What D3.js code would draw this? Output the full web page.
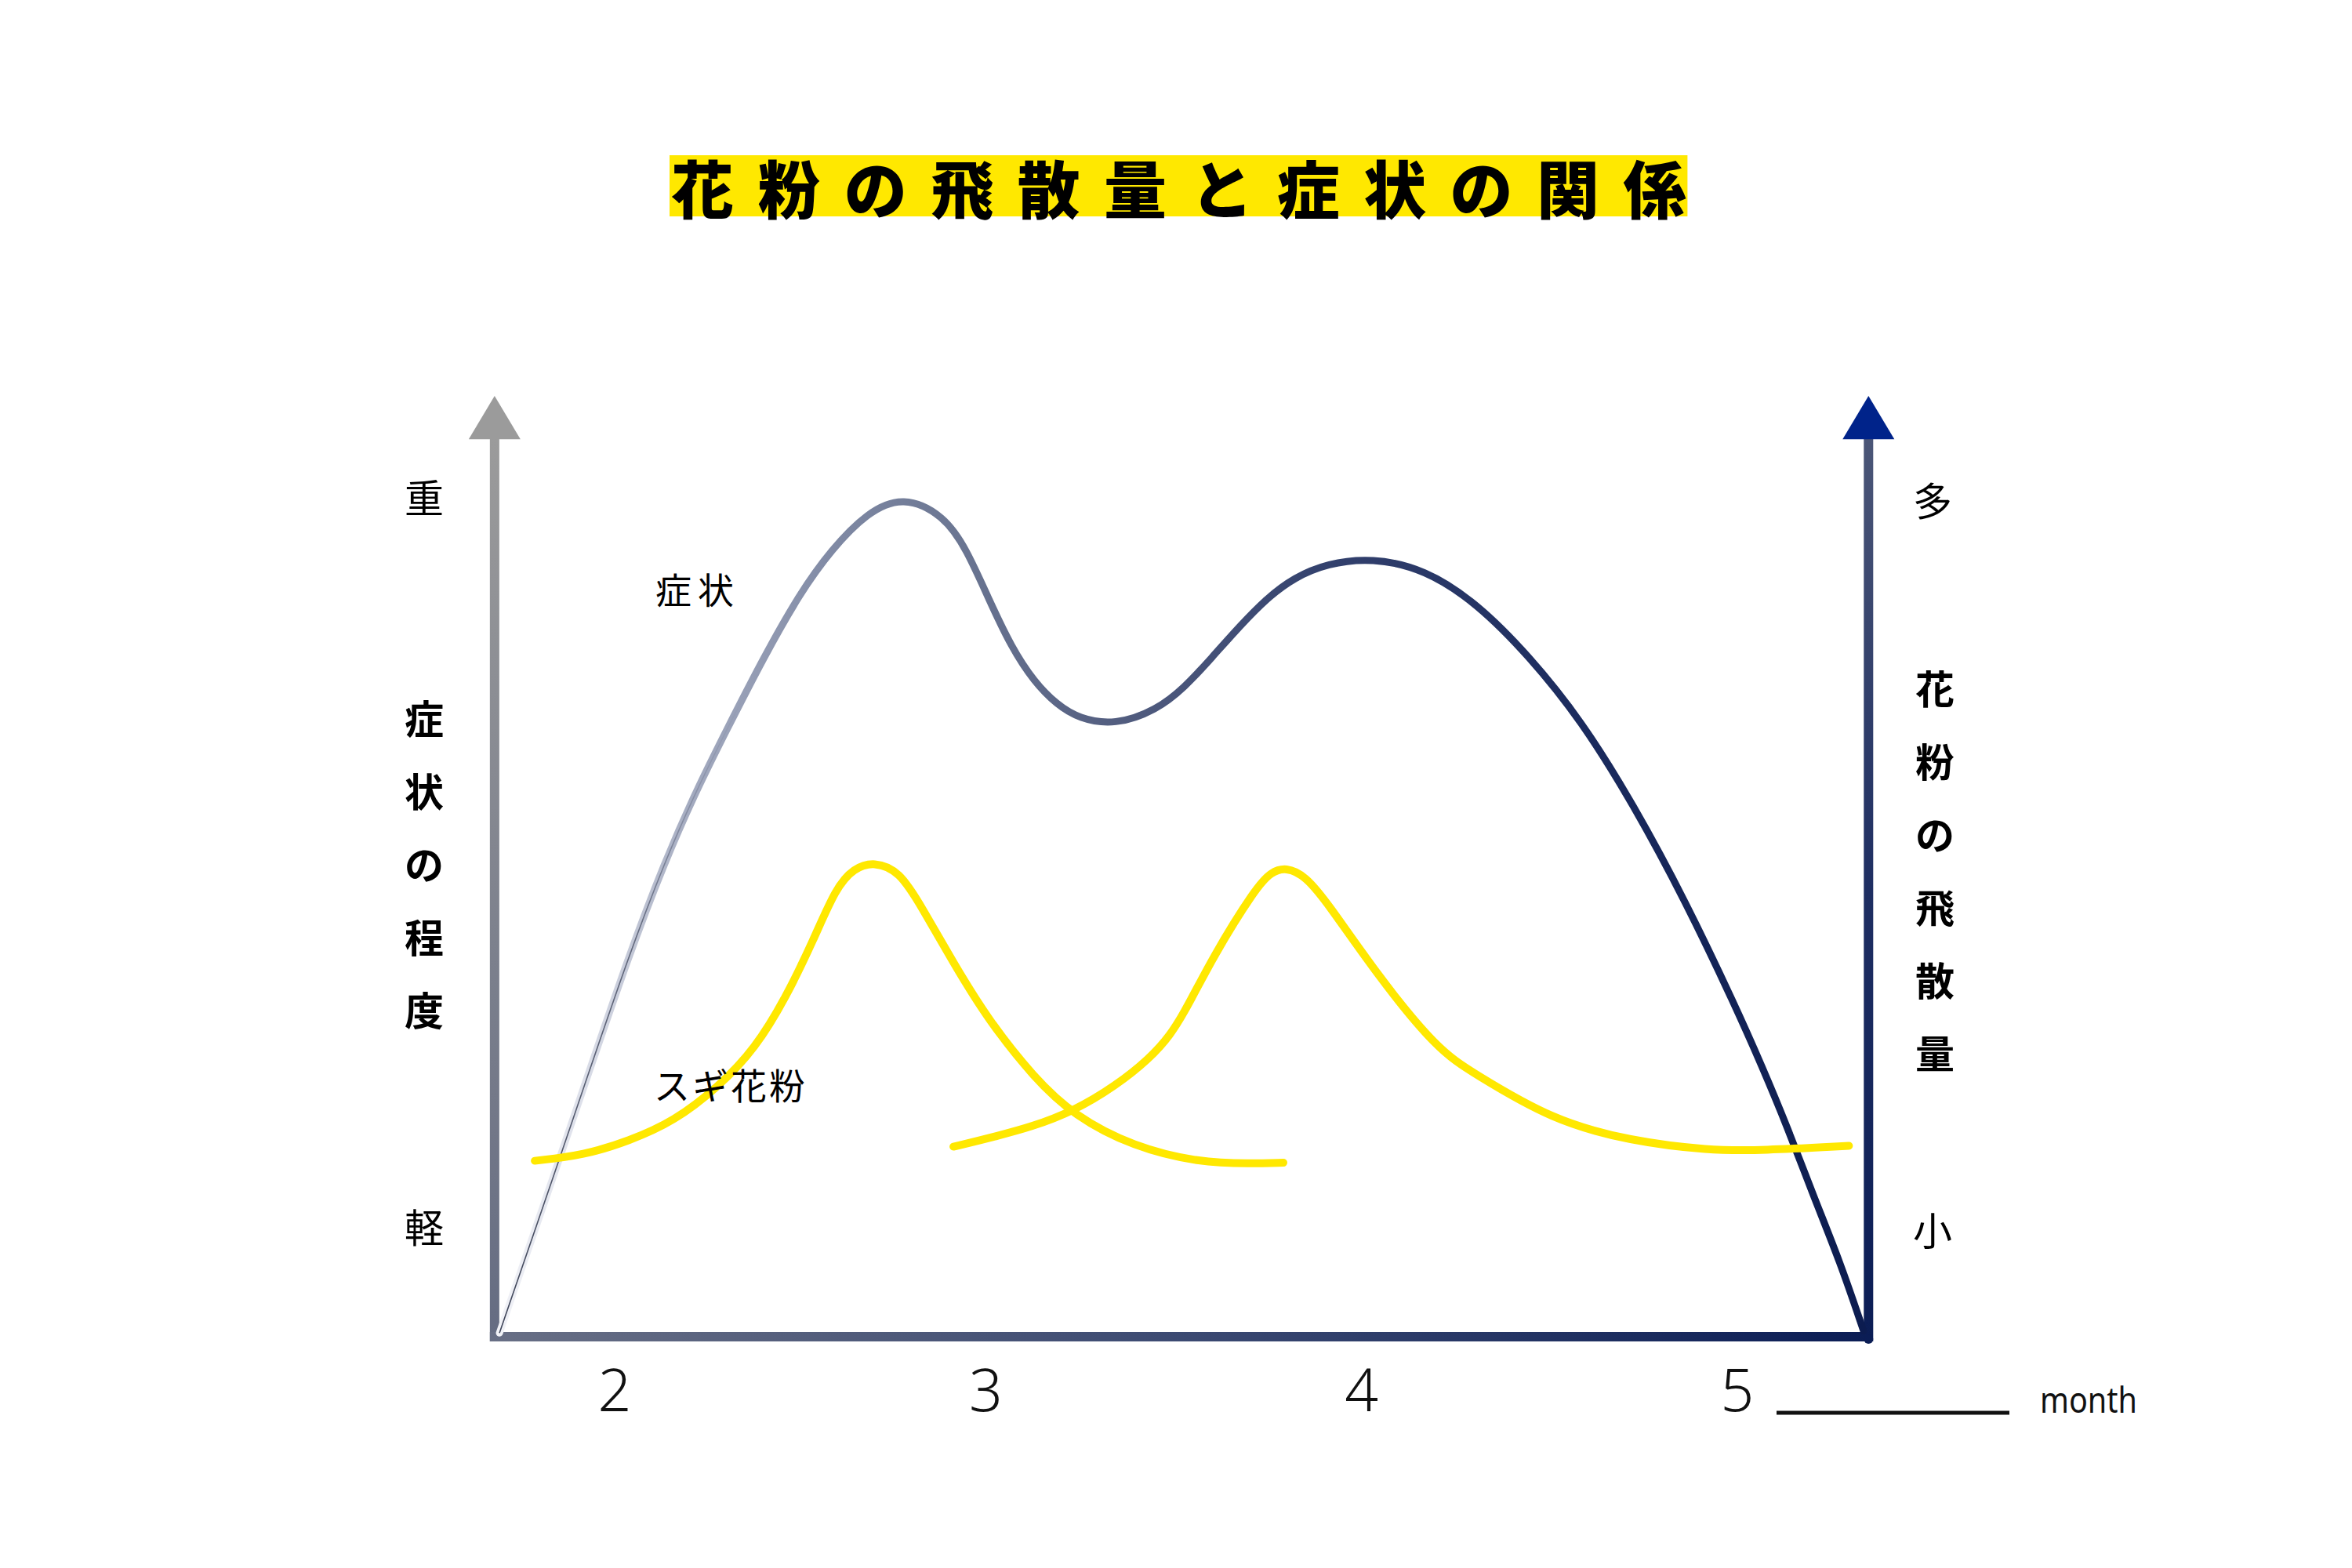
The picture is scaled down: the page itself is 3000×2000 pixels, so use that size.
<!DOCTYPE html>
<html><head><meta charset="utf-8">
<script src="https://cdn.jsdelivr.net/npm/d3@7/dist/d3.min.js"></script>
<style>html,body{margin:0;padding:0;background:#fff;} svg{display:block}</style>
</head><body>
<svg id="chart" width="3000" height="2000"></svg>
<script>
// ---------- data ----------
const titleText = "花粉の飛散量と症状の関係";
const monthTicks = [2, 3, 4, 5];
const monthUnit = "month";
const leftAxisTitle = "症状の程度";
const rightAxisTitle = "花粉の飛散量";
const leftAxisEnds = ["重", "軽"];
const rightAxisEnds = ["多", "小"];
const symptomLabel = "症状";
const pollenLabel = "スギ花粉";

// symptom severity (left axis, 0-10)
const symptomMonth = [1.706, 1.864, 1.931, 2.050, 2.146, 2.229, 2.313, 2.409, 2.505, 2.590, 2.684, 2.780, 2.889, 2.949, 3.008, 3.068, 3.129, 3.189, 3.248, 3.344, 3.454, 3.529, 3.602, 3.675, 3.748, 3.821, 3.909, 4.028, 4.168, 4.306, 4.445, 4.585, 4.723, 4.862, 4.994, 5.065, 5.134, 5.203, 5.273, 5.336];
const symptomLevel = [0.04, 1.87, 2.66, 4.05, 5.05, 5.80, 6.47, 7.22, 7.90, 8.37, 8.76, 8.94, 8.73, 8.37, 7.84, 7.33, 6.96, 6.72, 6.57, 6.50, 6.66, 6.90, 7.22, 7.55, 7.85, 8.07, 8.22, 8.28, 8.16, 7.80, 7.24, 6.55, 5.66, 4.63, 3.52, 2.88, 2.22, 1.49, 0.80, 0.06];

// pollen amount, first wave (スギ花粉) (right axis, 0-10)
const pollenAMonth = [1.800, 1.931, 2.050, 2.171, 2.290, 2.386, 2.469, 2.542, 2.601, 2.649, 2.703, 2.770, 2.828, 2.914, 3.008, 3.129, 3.235, 3.392, 3.569, 3.705, 3.792];
const pollenAValue = [1.87, 1.93, 2.08, 2.29, 2.66, 3.06, 3.61, 4.22, 4.77, 4.98, 5.05, 4.95, 4.58, 3.97, 3.36, 2.75, 2.35, 2.02, 1.85, 1.84, 1.85];

// pollen amount, second wave (right axis, 0-10)
const pollenBMonth = [2.914, 3.008, 3.235, 3.455, 3.529, 3.603, 3.720, 3.760, 3.799, 3.850, 3.910, 4.041, 4.202, 4.299, 4.508, 4.716, 4.925, 5.065, 5.297];
const pollenBValue = [2.02, 2.11, 2.35, 2.98, 3.44, 4.03, 4.78, 4.94, 4.99, 4.90, 4.61, 3.85, 3.05, 2.80, 2.30, 2.08, 1.98, 1.98, 2.03];

// axis extents (in data units)
const axisMonthMin = 1.693, axisMonthMax = 5.349;
const axisValueMax = 10, arrowBaseValue = 9.54;

// ---------- drawing ----------
const svg = d3.select("#chart");
const x = d3.scaleLinear().domain([2, 5]).range([778, 2216]);
const yL = d3.scaleLinear().domain([0, 10]).range([1705, 505]);
const yR = d3.scaleLinear().domain([0, 10]).range([1705, 505]);

const defs = svg.append("defs");
function lin(id, x1, y1, x2, y2, stops, units) {
  const g = defs.append("linearGradient").attr("id", id)
    .attr("x1", x1).attr("y1", y1).attr("x2", x2).attr("y2", y2);
  if (units) g.attr("gradientUnits", units);
  stops.forEach(s => g.append("stop").attr("offset", s[0]).attr("stop-color", s[1]).attr("stop-opacity", s[2] == null ? 1 : s[2]));
}
lin("gLeft", 0, 0, 0, 1, [[0, "#9b9b9b"], [1, "#656c82"]]);
lin("gBottom", 0, 0, 1, 0, [[0, "#686f85"], [0.5, "#3c4a72"], [1, "#0b1d55"]]);
lin("gRight", 0, 0, 0, 1, [[0, "#4b5677"], [0.5, "#1e2e62"], [1, "#0b1d55"]]);
lin("gSym", x(symptomMonth[0]), 0, x(symptomMonth[symptomMonth.length - 1]), 0,
  [[0, "#f1f2f7"], [0.06, "#dde0ea"], [0.14, "#a4abc0"], [0.25, "#7e88a3"], [0.33, "#6c7793"],
   [0.45, "#535e80"], [0.6, "#34426e"], [0.8, "#1a2a5d"], [1, "#0c1c50"]], "userSpaceOnUse");
lin("gSymThin", x(symptomMonth[0]), 0, x(symptomMonth[symptomMonth.length - 1]), 0,
  [[0, "#3e4458", 1], [0.1, "#4a5166", 0.8], [0.18, "#6a7390", 0]], "userSpaceOnUse");

const axW = 12;
const xl = x(axisMonthMin), xr = x(axisMonthMax);
const yBase = yL(0), yTop = yL(axisValueMax), yArrowBase = yL(arrowBaseValue);

// left axis
svg.append("rect").attr("x", xl - axW / 2).attr("y", yArrowBase - 1)
  .attr("width", axW).attr("height", yBase + axW / 2 - yArrowBase + 1).attr("fill", "url(#gLeft)");
svg.append("path").attr("d", `M${xl},${yTop} L${xl - 33},${yArrowBase} L${xl + 33},${yArrowBase} Z`).attr("fill", "#9b9b9b");
// right axis
svg.append("rect").attr("x", xr - axW / 2).attr("y", yArrowBase - 1)
  .attr("width", axW).attr("height", yBase + axW / 2 - yArrowBase + 1).attr("fill", "url(#gRight)");
svg.append("circle").attr("cx", xr).attr("cy", yBase + 3).attr("r", axW / 2).attr("fill", "#0b1d55");
svg.append("path").attr("d", `M${xr},${yTop} L${xr - 33},${yArrowBase} L${xr + 33},${yArrowBase} Z`).attr("fill", "#00238a");
// bottom axis
svg.append("rect").attr("x", xl - axW / 2).attr("y", yBase - axW / 2)
  .attr("width", xr - xl + axW / 2).attr("height", axW).attr("fill", "url(#gBottom)");

// curves
const lineSym = d3.line().x((d, i) => x(symptomMonth[i])).y(d => yL(d)).curve(d3.curveBasis);
svg.append("path").attr("d", lineSym(symptomLevel)).attr("fill", "none")
  .attr("stroke", "url(#gSym)").attr("stroke-width", 9).attr("stroke-linecap", "round");
svg.append("path").attr("d", lineSym(symptomLevel)).attr("fill", "none")
  .attr("stroke", "url(#gSymThin)").attr("stroke-width", 1.6);

const lineA = d3.line().x((d, i) => x(pollenAMonth[i])).y(d => yR(d)).curve(d3.curveBasis);
const lineB = d3.line().x((d, i) => x(pollenBMonth[i])).y(d => yR(d)).curve(d3.curveBasis);
[lineA(pollenAValue), lineB(pollenBValue)].forEach(d =>
  svg.append("path").attr("d", d).attr("fill", "none").attr("stroke", "#ffe800")
    .attr("stroke-width", 10).attr("stroke-linecap", "round"));

// title
const jp = "'Noto Sans CJK JP', 'Noto Sans', sans-serif";
const tChars = Array.from(titleText);
const tFont = 80, tPitch = 110.4, tLeft = 854;
svg.append("rect").attr("x", tLeft).attr("y", 198)
  .attr("width", tPitch * (tChars.length - 1) + tFont + 4).attr("height", 78).attr("fill", "#ffe800");
svg.append("g").selectAll("text").data(tChars).join("text")
  .attr("x", (d, i) => tLeft + 2 + tFont / 2 + i * tPitch).attr("y", 237)
  .attr("text-anchor", "middle").attr("dominant-baseline", "central")
  .attr("font-family", jp).attr("font-weight", 900).attr("font-size", tFont).attr("fill", "#000")
  .text(d => d);

// vertical axis titles
const vPitch = 93;
function vtext(str, cx, cy0, weight) {
  svg.append("g").selectAll("text").data(Array.from(str)).join("text")
    .attr("x", cx).attr("y", (d, i) => cy0 + i * vPitch)
    .attr("text-anchor", "middle").attr("dominant-baseline", "central")
    .attr("font-family", jp).attr("font-weight", weight).attr("font-size", 50).attr("fill", "#000")
    .text(d => d);
}
vtext(leftAxisTitle, 541, 914, 700);
vtext(rightAxisTitle, 2468, 876, 700);
vtext(leftAxisEnds[0], 541, 632, 400);
vtext(rightAxisEnds[0], 2465, 636, 400);
vtext(leftAxisEnds[1], 541, 1563, 400);
vtext(rightAxisEnds[1], 2465, 1567, 400);

// curve labels
svg.append("text").attr("x", 836).attr("y", 750).attr("dominant-baseline", "central")
  .attr("font-family", jp).attr("font-weight", 400).attr("font-size", 46).attr("letter-spacing", 8)
  .attr("fill", "#000").text(symptomLabel);
svg.append("text").attr("x", 834).attr("y", 1382).attr("dominant-baseline", "central")
  .attr("font-family", jp).attr("font-weight", 400).attr("font-size", 46).attr("letter-spacing", 3)
  .attr("fill", "#000").text(pollenLabel);

// month ticks
svg.append("g").selectAll("text").data(monthTicks).join("text")
  .attr("x", d => x(d) + (d === 2 ? 6 : 0)).attr("y", 1800).attr("text-anchor", "middle")
  .attr("font-family", "'Noto Sans', sans-serif").attr("font-weight", 300).attr("font-size", 75)
  .attr("fill", "#111").text(d => d);
const last = monthTicks[monthTicks.length - 1];
svg.append("line").attr("x1", x(last) + 50).attr("x2", x(last) + 347).attr("y1", 1802).attr("y2", 1802)
  .attr("stroke", "#111").attr("stroke-width", 5);
svg.append("text").attr("x", x(last) + 386).attr("y", 1802)
  .attr("font-family", "'Noto Sans', sans-serif").attr("font-weight", 400).attr("font-size", 46)
  .attr("textLength", 124).attr("lengthAdjust", "spacingAndGlyphs")
  .attr("fill", "#111").text(monthUnit);
</script>
</body></html>
